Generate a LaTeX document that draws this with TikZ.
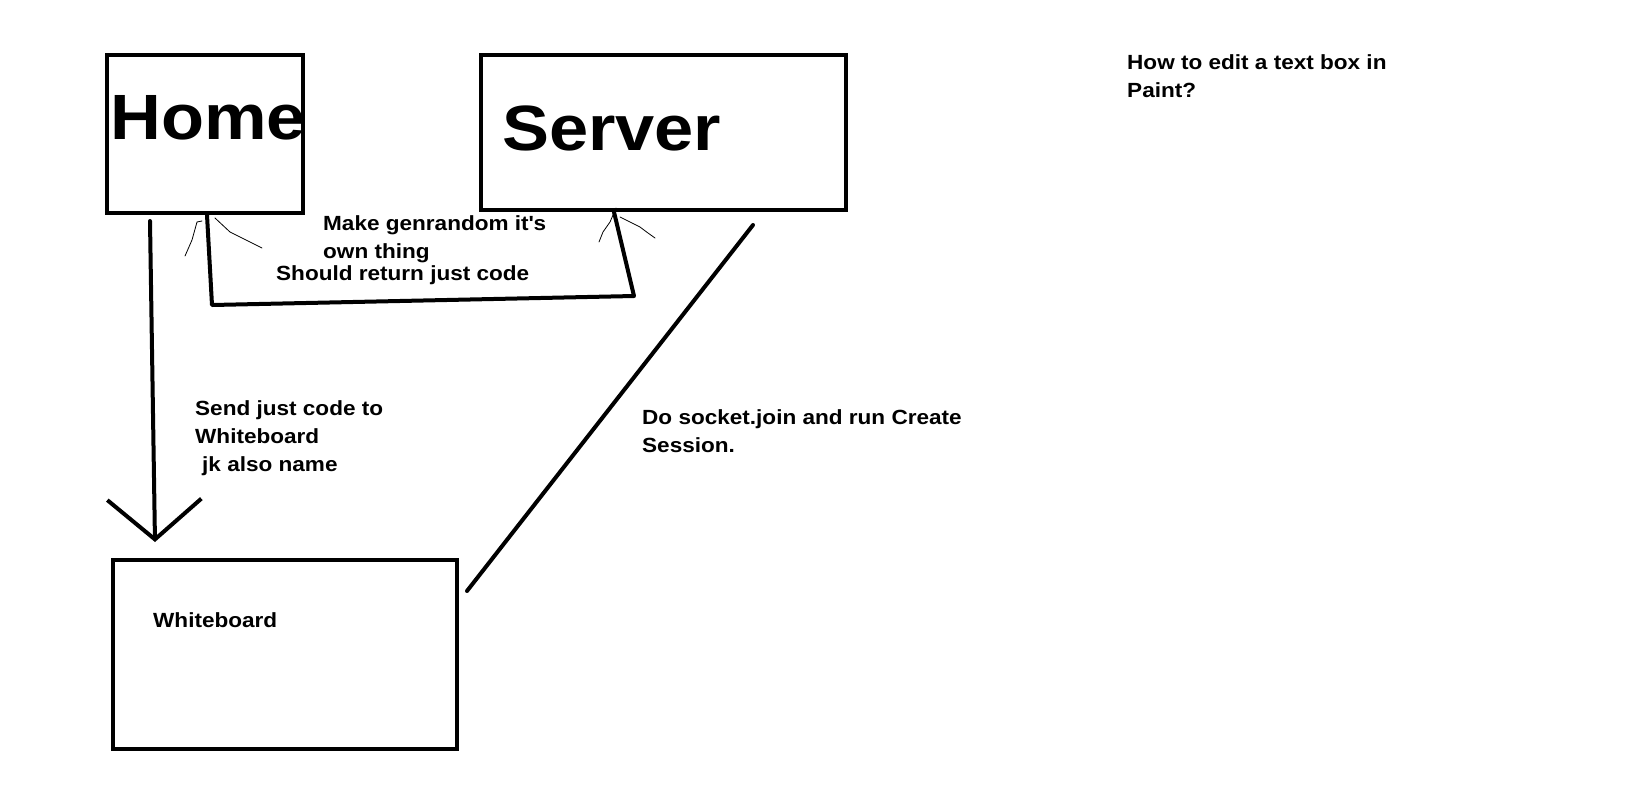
\documentclass[tikz,border=0pt]{standalone}
\usepackage{fontspec}
\setmainfont[FakeStretch=1.1]{Liberation Sans}
\usetikzlibrary{arrows.meta,positioning}
\tikzset{
  box/.style={draw=black, line width=4pt, inner sep=0pt},
  bigname/.style={font=\fontsize{64}{64}\selectfont\bfseries, inner sep=0pt, anchor=base west},
  note/.style={font=\fontsize{20.5}{28}\selectfont\bfseries, inner sep=0pt,
    anchor=base west, align=left},
  wire/.style={line width=4pt, line cap=round, line join=round},
  push/.style={wire, -{Straight Barb[length=40pt, width=94pt]}},
  sketch/.style={line width=0.8pt, line cap=round},
}

\begin{document}
\begin{tikzpicture}[x=1pt,y=-1pt]
  \useasboundingbox (0,0) rectangle (1647,788);
  % boxes
  \node[box, minimum width=196pt, minimum height=158pt] (home) at (205,134) {};
  \node[box, minimum width=365pt, minimum height=155pt] (server) at (663.5,132.5) {};
  \node[box, minimum width=344pt, minimum height=189pt] (board) at (285,654.5) {};
  \node[bigname] (homet) at (110,139) {Home};
  \node[bigname] (servert) at (502,150) {Server};
  \node[note] (boardt) at (153,627) {Whiteboard};
  % home <-> server (anchored at the last line of each note)
  \coordinate (turnL) at (212,305);
  \coordinate (turnR) at (634,296);
  \draw[wire] ([xshift=102pt]home.south west) -- (turnL) -- (turnR)
    -- ([xshift=135pt]server.south west);
  \draw[sketch] (202,221) -- (197,222) -- (192,240) -- (185,256);
  \draw[sketch] (215,218) -- (230,232) -- (262,248);
  \draw[sketch] (616,208) -- (610,222) -- (603,232) -- (599,242);
  \draw[sketch] (620,217) -- (630,222) -- (640,227) -- (648,233) -- (655,238);
  \node[note] (gennote) at (323,258) {Make genrandom it\textquotesingle s\\own thing};
  \node[note] (retnote) at (276,280) {Should return just code};
  % home -> whiteboard
  \draw[push] ([xshift=45pt,yshift=-6pt]home.south west)
    -- ([xshift=44pt,yshift=16pt]board.north west);
  \node[note] (sendnote) at (195,471) {Send just code to\\Whiteboard\\\hspace{7pt}jk also name};
  % server -- whiteboard
  \draw[wire] ([xshift=274pt,yshift=-13pt]server.south west)
    -- ([xshift=8pt,yshift=-33pt]board.north east);
  \node[note] (joinnote) at (642,452) {Do socket.join and run Create\\Session.};
  % aside
  \node[note] (asknote) at (1127,97) {How to edit a text box in\\Paint?};
\end{tikzpicture}
\end{document}
